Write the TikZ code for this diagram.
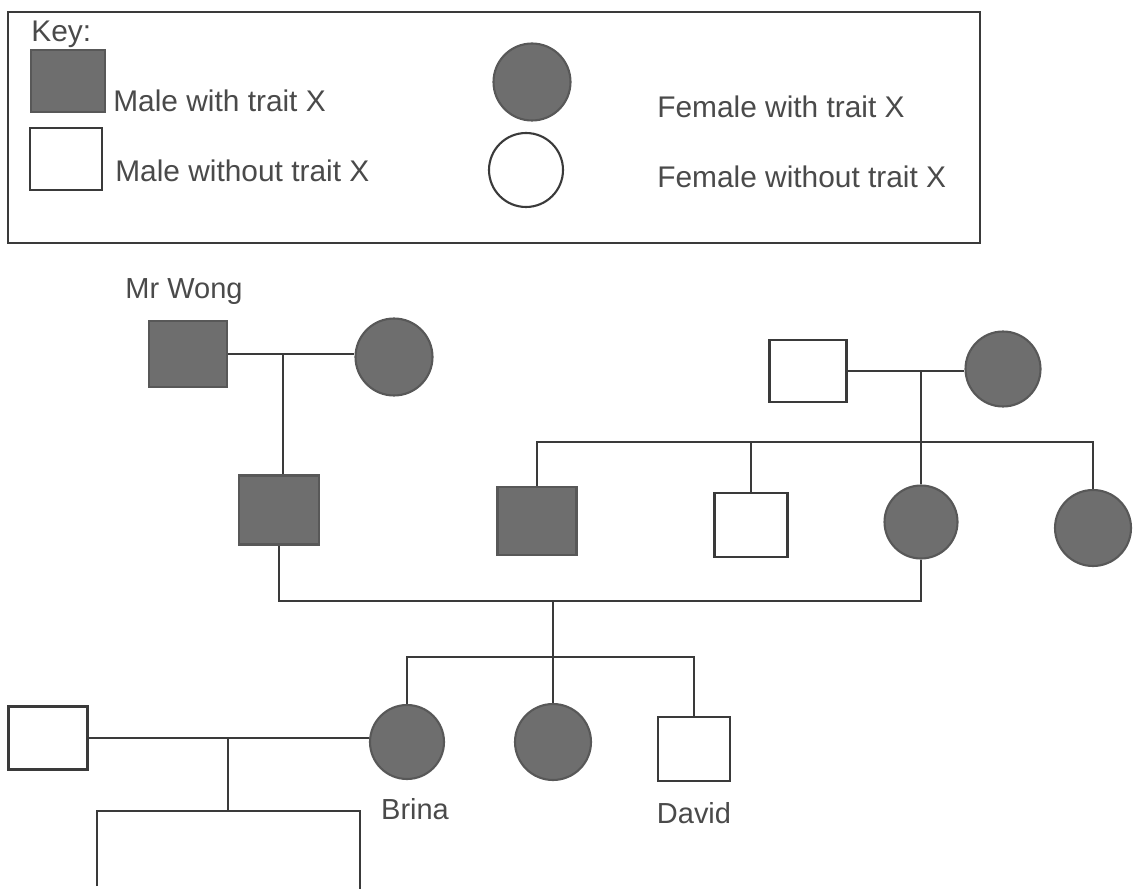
\documentclass[tikz,border=0pt]{standalone}
\usepackage{fontspec}
\setmainfont{Liberation Sans}
\usepackage{tikz}
\usetikzlibrary{positioning}
\definecolor{PedLine}{HTML}{3A3A3A}
\definecolor{PedFill}{HTML}{6E6E6E}
\definecolor{PedText}{HTML}{4A4A4A}

\begin{document}
\begin{tikzpicture}[
    x=0.02cm, y=-0.02cm,
    male/.style={
        rectangle, draw=PedLine, line width=1.2pt, fill=white,
        minimum width=1.56cm, minimum height=1.32cm, inner sep=0pt
    },
    female/.style={
        circle, draw=PedLine, line width=1.2pt, fill=white,
        minimum size=1.5cm, inner sep=0pt
    },
    trait/.style={fill=PedFill, draw=PedFill!80!black},
    keytext/.style={
        anchor=base west, inner sep=0pt, text=PedText,
        font=\fontsize{17}{20}\selectfont
    },
    pname/.style={inner sep=0pt, text=PedText, font=\fontsize{16.5}{20}\selectfont},
    pline/.style={line width=1.4pt, color=PedLine}
]

\useasboundingbox (0,0) rectangle (1138,891);

\draw[line width=1.1pt, PedLine] (8,12) rectangle (980,243);

\node[keytext] (keytitle) at (31,42) {Key:};
\node[male, trait, minimum width=1.48cm, minimum height=1.24cm] (keyaffm) at (68,81) {};
\node[keytext] (keyaffmtext) at (113,112) {Male with trait X};
\node[male, minimum width=1.44cm, minimum height=1.24cm] (keyunaffm) at (66,159) {};
\node[keytext] (keyunaffmtext) at (115,182) {Male without trait X};
\node[female, trait, minimum size=1.54cm] (keyafff) at (532,82) {};
\node[keytext] (keyafftext) at (657,118) {Female with trait X};
\node[female, minimum size=1.48cm] (keyunafff) at (526,170) {};
\node[keytext] (keyunafftext) at (657,188) {Female without trait X};

\node[male, trait] (wong) at (188,354) {};
\node[pname, above=0.3cm of wong, xshift=-0.08cm] (wonglabel) {Mr Wong};
\node[female, trait, minimum size=1.54cm] (wongwife) at (394,357) {};
\node[male, trait, minimum width=1.6cm, minimum height=1.38cm] (son) at (279,510) {};

\node[male, minimum width=1.54cm, minimum height=1.24cm] (rdad) at (808,371) {};
\node[female, trait] (rmom) at (1003,369) {};
\node[male, trait, minimum width=1.58cm, minimum height=1.36cm] (uncle) at (537,521) {};
\node[male, minimum width=1.46cm, minimum height=1.28cm] (uncletwo) at (751,525) {};
\node[female, trait, minimum size=1.46cm] (mother) at (921,522) {};
\node[female, trait, minimum size=1.52cm] (aunt) at (1093,528) {};

\node[male, minimum width=1.58cm, minimum height=1.26cm] (husband) at (48,738) {};
\node[female, trait, minimum size=1.48cm] (brina) at (407,742) {};
\node[pname, below=0.36cm of brina, xshift=0.16cm] (brinalabel) {Brina};
\node[female, trait, minimum size=1.52cm] (sister) at (553,742) {};
\node[male, minimum width=1.44cm, minimum height=1.28cm] (david) at (694,749) {};
\node[pname, below=0.4cm of david] (davidlabel) {David};

\coordinate (wongmid) at (283,354);
\coordinate (rmid) at (921,371);
\coordinate (sibs) at (921,442);
\coordinate (gen3) at (553,601);
\coordinate (kids) at (553,657);
\coordinate (bmid) at (228,738);
\coordinate (grandkids) at (228,811);
\coordinate (gkleft) at (97,886);
\coordinate (gkright) at (360,889);

\draw[pline] (wong.east) -- (wong.east -| wongwife.west);
\draw[pline] (wongmid) -- (wongmid |- son.north);
\draw[pline] (rdad.east) -- (rdad.east -| rmom.west);
\draw[pline] (rmid) -- (mother.north);
\draw[pline] (uncle.north) |- (sibs) -| (aunt.north);
\draw[pline] (uncletwo.north) -- (uncletwo.north |- sibs);
\draw[pline] (son.south) |- (gen3) -| (mother.south);
\draw[pline] (gen3) -- (kids);
\draw[pline] (brina.north) |- (kids) -| (david.north);
\draw[pline] (kids) -- (sister.north);
\draw[pline] (husband.east) -- (husband.east -| brina.west);
\draw[pline] (bmid) -- (grandkids);
\draw[pline] (gkleft) |- (grandkids) -| (gkright);

\end{tikzpicture}
\end{document}
